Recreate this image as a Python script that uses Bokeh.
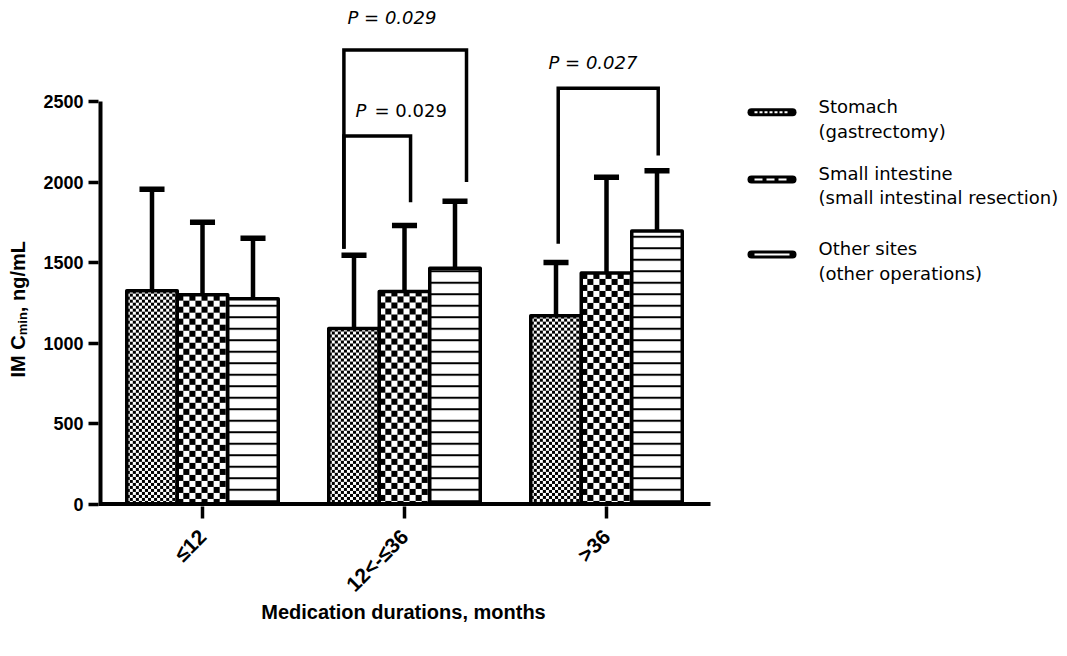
import numpy as np
from math import pi
from bokeh.plotting import figure
from bokeh.models import Range1d, FixedTicker, ColumnDataSource
from bokeh.core.properties import value
from bokeh.embed import file_html
from bokeh.resources import INLINE

# ---------------- data ----------------
durations = ["≤12", "12<-≤36", ">36"]
stomach_mean = [1325, 1090, 1170]
stomach_sd = [630, 455, 330]
intestine_mean = [1300, 1320, 1435]
intestine_sd = [450, 410, 595]
other_mean = [1275, 1465, 1695]
other_sd = [375, 415, 375]

legend_line1 = ["Stomach", "Small intestine", "Other sites"]
legend_line2 = ["(gastrectomy)", "(small intestinal resection)", "(other operations)"]

y_ticks = [0, 500, 1000, 1500, 2000, 2500]

# significance brackets (data units)
bracket_x0 = [1.700, 1.700, 2.761]
bracket_x1 = [2.307, 2.030, 3.256]
bracket_top = [2820, 2285, 2583]
bracket_left_end = [1585, 1585, 1616]
bracket_right_end = [2000, 1875, 2165]
p_values = ["0.029", "0.029", "0.027"]

# ---------------- layout helpers (page pixel -> data) ----------------
PX_PER_X = 202.0
PX_PER_Y = 0.161

def px2x(rx):
    return 1 + (rx - 202) / PX_PER_X

def px2y(ry):
    return (503.5 - ry) / PX_PER_Y

W, H = 1058, 648
p = figure(width=W, height=H, output_backend="svg", toolbar_location=None,
           x_range=Range1d(px2x(0), px2x(W)), y_range=Range1d(px2y(H), px2y(0)),
           min_border_left=0, min_border_right=0, min_border_top=0, min_border_bottom=0)
p.outline_line_color = None
p.xgrid.grid_line_color = None
p.ygrid.grid_line_color = None
p.background_fill_color = "white"
p.border_fill_color = "white"

centers = np.arange(1, len(durations) + 1, dtype=float)
bar_w = 0.25
cap_half = 0.062


def checker_image(top_value, cell):
    cols = int(round(bar_w * PX_PER_X))
    rows = max(1, int(round(top_value * PX_PER_Y)))
    jj, ii = np.meshgrid(np.arange(cols), np.arange(rows)[::-1])
    black = ((ii // cell + jj // cell) % 2) == 0
    img = np.full((rows, cols), 0xFFFFFFFF, dtype=np.uint32)
    img[black] = 0xFF000000
    return img


series = [
    (stomach_mean, stomach_sd, -bar_w, "checker", 3),
    (intestine_mean, intestine_sd, 0.0, "checker", 6),
    (other_mean, other_sd, bar_w, "lines", None),
]

for mean, sd, off, kind, cell in series:
    xs = centers + off
    top = np.array(mean, dtype=float)
    up = top + np.array(sd, dtype=float)
    src = ColumnDataSource(dict(x=xs, top=top, up=up, cl=xs - cap_half, cr=xs + cap_half))
    p.segment(x0="x", y0="top", x1="x", y1="up", source=src, line_color="black", line_width=4.5)
    p.segment(x0="cl", y0="up", x1="cr", y1="up", source=src, line_color="black", line_width=5.5)
    if kind == "checker":
        p.image_rgba(image=[checker_image(t, cell) for t in top], x=list(xs - bar_w / 2),
                     y=[0] * len(xs), dw=[bar_w] * len(xs), dh=list(top))
        p.vbar(x="x", top="top", bottom=0, width=bar_w, source=src, fill_color=None,
               line_color="black", line_width=3.5, line_join="round")
    else:
        p.vbar(x="x", top="top", bottom=0, width=bar_w, source=src, fill_color="white",
               hatch_pattern="horizontal_line", hatch_scale=11.5, hatch_weight=2,
               hatch_color="black", line_color="black", line_width=3.5, line_join="round")

# axis lines (stop at 2500 and after the last group)
ax_x0 = px2x(100)
ax_x1 = px2x(710)
p.line(x=[ax_x0, ax_x0, ax_x1], y=[y_ticks[-1], 0, 0], line_color="black", line_width=4, line_join="miter")

# brackets
bxs = [[a, a, b, b] for a, b in zip(bracket_x0, bracket_x1)]
bys = [[l, t, t, r] for l, t, r in zip(bracket_left_end, bracket_top, bracket_right_end)]
p.multi_line(xs=bxs, ys=bys, line_color="black", line_width=3.5, line_join="miter")

# P labels
FONT = "DejaVu Sans"
p.text(x=[px2x(347), px2x(548)], y=[px2y(16.7), px2y(62.3)],
       text=["P = " + p_values[0], "P = " + p_values[2]],
       text_font=value(FONT), text_font_style="italic", text_font_size="18px",
       text_color="black", text_align="left", text_baseline="alphabetic")
p.text(x=[px2x(355)], y=[px2y(110)], text=["P"],
       text_font=value(FONT), text_font_style="italic", text_font_size="18px",
       text_color="black", text_align="left", text_baseline="alphabetic")
p.text(x=[px2x(374)], y=[px2y(110)], text=["= " + p_values[1]],
       text_font=value(FONT), text_font_style="normal", text_font_size="18px",
       text_color="black", text_align="left", text_baseline="alphabetic")

# legend (manual)
leg_y = [px2y(111.7), px2y(179), px2y(254)]
leg_dash = ["3 2", "8 4", "solid"]
p.segment(x0=[px2x(751)] * 3, x1=[px2x(792)] * 3, y0=leg_y, y1=leg_y,
          line_color="black", line_width=8, line_cap="round")
for yy, d in zip(leg_y, leg_dash):
    p.segment(x0=[px2x(754)], x1=[px2x(789)], y0=[yy], y1=[yy],
              line_color="white", line_width=2, line_dash=d)
p.text(x=[px2x(818)] * 3, y=[px2y(106), px2y(172.7), px2y(247.7)], text=legend_line1,
       text_font=value(FONT), text_font_size="18px", text_color="black",
       text_align="left", text_baseline="alphabetic")
p.text(x=[px2x(818)] * 3, y=[px2y(130.5), px2y(197.3), px2y(272.7)], text=legend_line2,
       text_font=value(FONT), text_font_size="18px", text_color="black",
       text_align="left", text_baseline="alphabetic")

# y axis (fixed at the axis line)
yax = p.yaxis[0]
yax.fixed_location = px2x(98)
yax.ticker = FixedTicker(ticks=y_ticks)
yax.axis_line_color = None
yax.major_tick_in = 0
yax.major_tick_out = 10
yax.major_tick_line_width = 3.5
yax.minor_tick_line_color = None
yax.major_label_standoff = 5
yax.major_label_text_font = "Liberation Sans"
yax.major_label_text_font_style = "bold"
yax.major_label_text_font_size = "18px"
yax.major_label_text_color = "black"

# x axis (fixed at the axis line)
xax = p.xaxis[0]
xax.fixed_location = px2y(505.5)
xax.ticker = FixedTicker(ticks=list(centers))
xax.major_label_overrides = {float(c): lab for c, lab in zip(centers, durations)}
xax.axis_line_color = None
xax.major_tick_in = 0
xax.major_tick_out = 12
xax.major_tick_line_width = 3.5
xax.minor_tick_line_color = None
xax.major_label_orientation = pi / 4
xax.major_label_standoff = 15
xax.major_label_text_font = "Liberation Sans"
xax.major_label_text_font_style = "bold"
xax.major_label_text_font_size = "21px"
xax.major_label_text_color = "black"

# axis titles
p.text(x=[px2x(403)], y=[px2y(611)], text=["Medication durations, months"],
       text_font=value("Liberation Sans"), text_font_style="bold", text_font_size="20px",
       text_color="black", text_align="center", text_baseline="alphabetic")

ylab_x = 17.5
ylab_start = 377.0
pieces = [("IM C", 20, 0.0, 2111), ("min", 13, 4.0, 1778), (", ng/mL", 20, 0.0, 3556)]
cur = ylab_start
for txt, fs, dx, em in pieces:
    p.text(x=[px2x(ylab_x + dx)], y=[px2y(cur)], text=[txt], angle=pi / 2,
           text_font=value("Liberation Sans"), text_font_style="bold", text_font_size=f"{fs}px",
           text_color="black", text_align="left", text_baseline="alphabetic")
    cur -= em * fs / 1000.0

open("out.html", "w").write(file_html(p, INLINE))
